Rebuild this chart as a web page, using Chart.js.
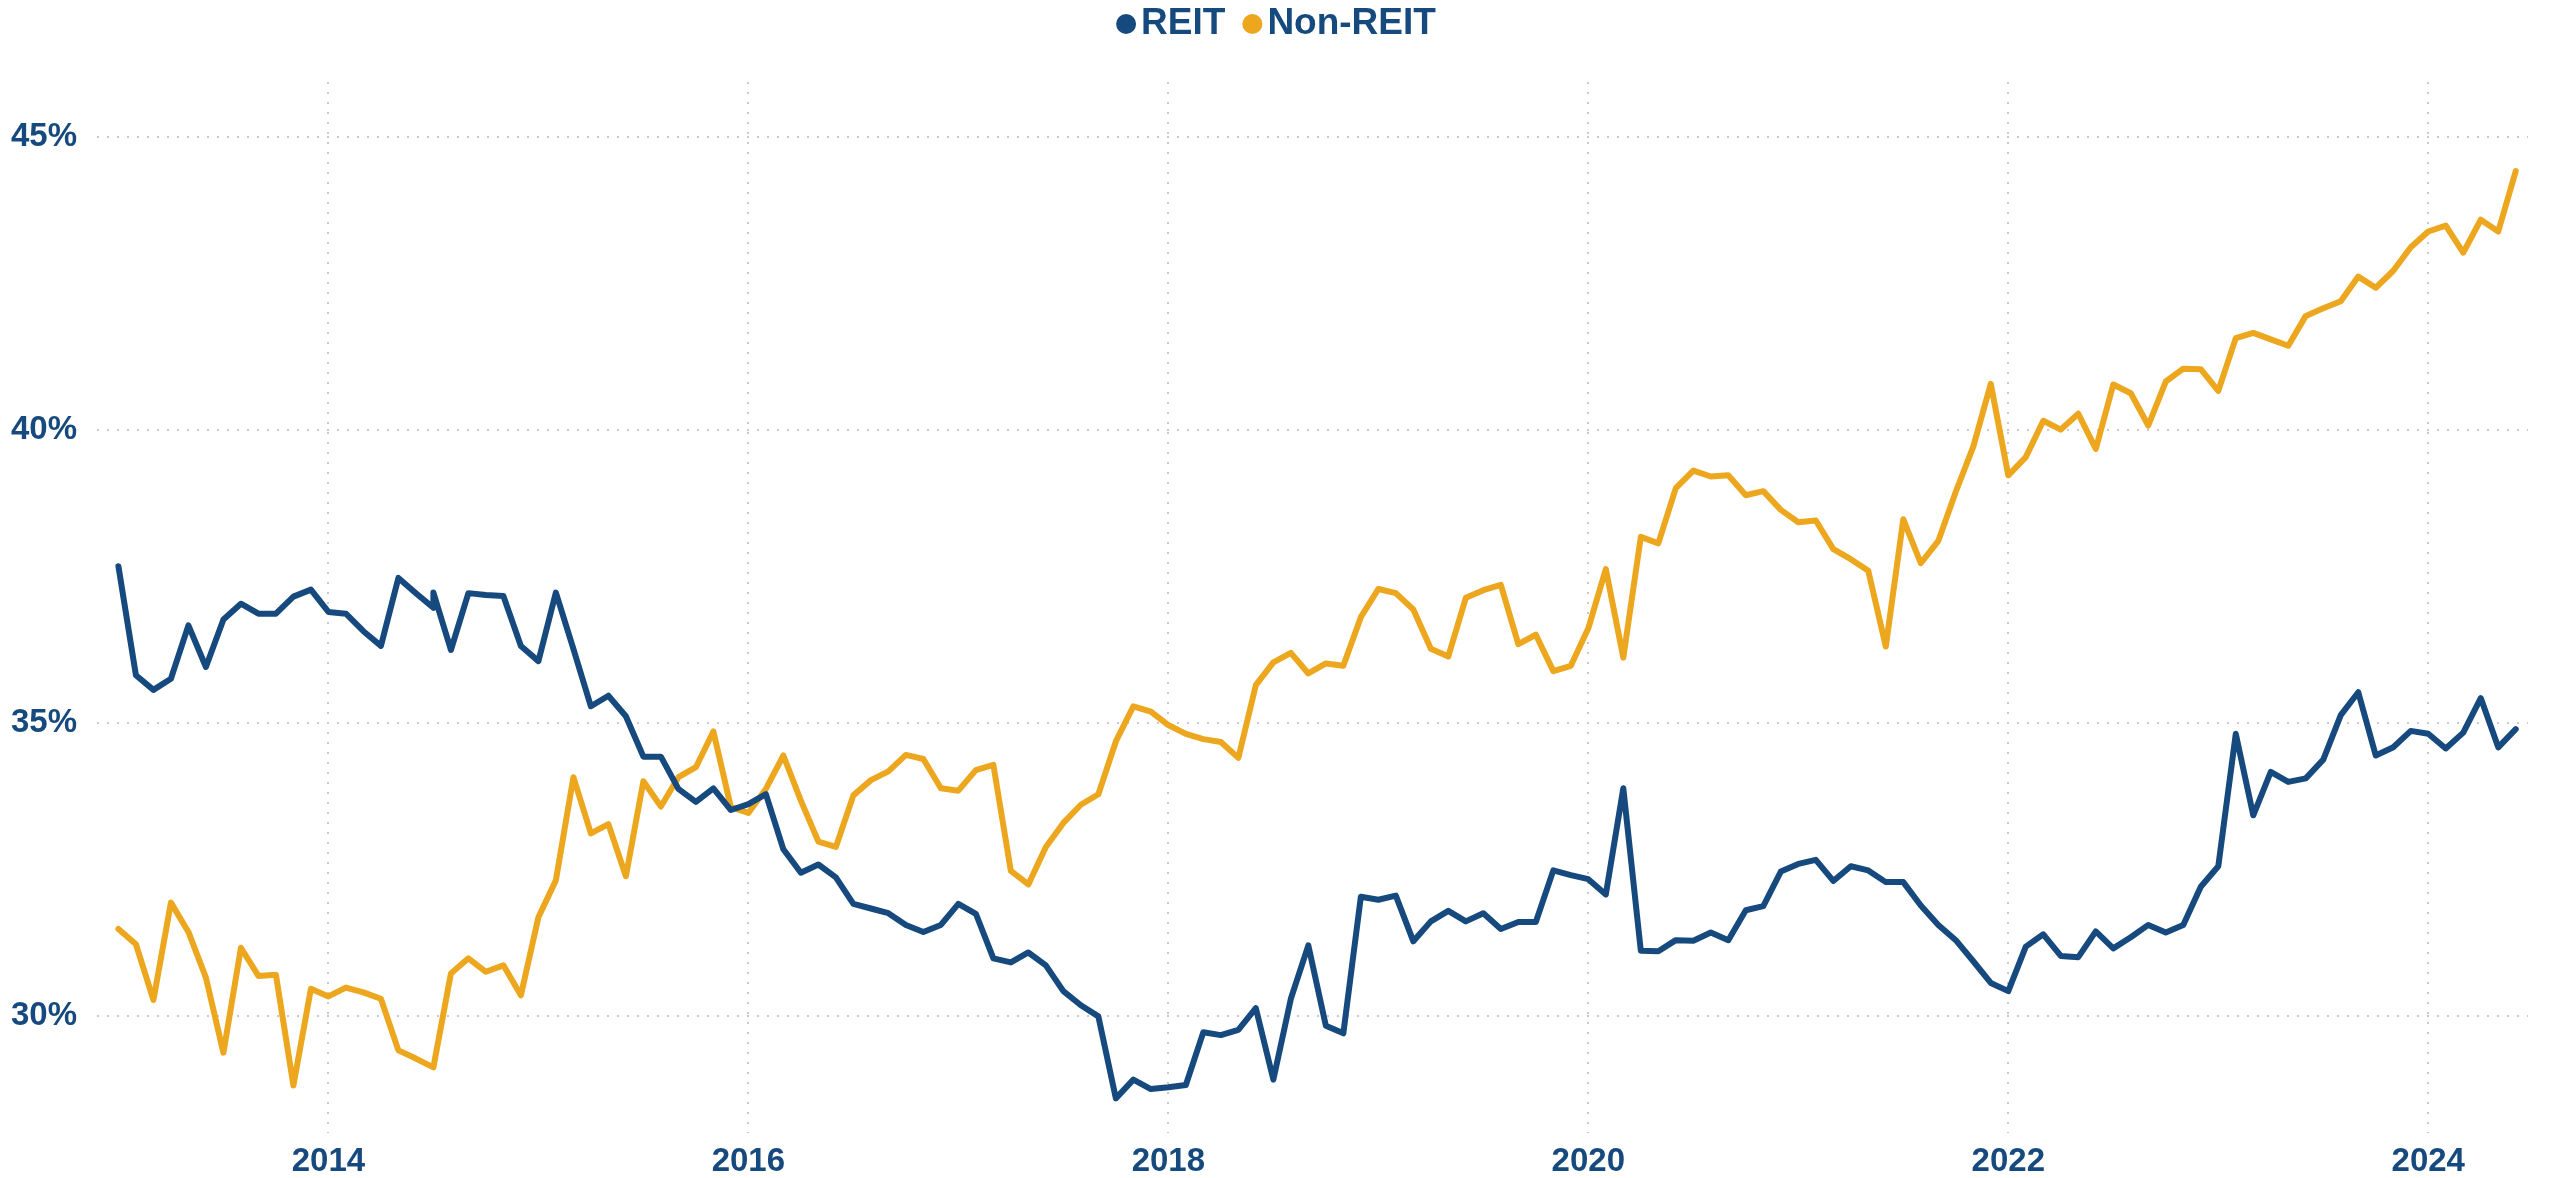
<!DOCTYPE html>
<html>
<head>
<meta charset="utf-8">
<script src="https://cdn.jsdelivr.net/npm/chart.js@4.4.1/dist/chart.umd.min.js"></script>
<style>
  html, body { margin: 0; padding: 0; background: #fff; }
  canvas { display: block; }
</style>
</head>
<body>
<canvas id="board" width="2552" height="1178"></canvas>
<script>
// month of each observation (2014-07 shows up twice in the source)
const months = [
  "2013-01","2013-02","2013-03","2013-04","2013-05","2013-06","2013-07","2013-08","2013-09","2013-10","2013-11","2013-12",
  "2014-01","2014-02","2014-03","2014-04","2014-05","2014-06","2014-07","2014-07","2014-08","2014-09","2014-10","2014-11","2014-12",
  "2015-01","2015-02","2015-03","2015-04","2015-05","2015-06","2015-07","2015-08","2015-09","2015-10","2015-11","2015-12",
  "2016-01","2016-02","2016-03","2016-04","2016-05","2016-06","2016-07","2016-08","2016-09","2016-10","2016-11","2016-12",
  "2017-01","2017-02","2017-03","2017-04","2017-05","2017-06","2017-07","2017-08","2017-09","2017-10","2017-11","2017-12",
  "2018-01","2018-02","2018-03","2018-04","2018-05","2018-06","2018-07","2018-08","2018-09","2018-10","2018-11","2018-12",
  "2019-01","2019-02","2019-03","2019-04","2019-05","2019-06","2019-07","2019-08","2019-09","2019-10","2019-11","2019-12",
  "2020-01","2020-02","2020-03","2020-04","2020-05","2020-06","2020-07","2020-08","2020-09","2020-10","2020-11","2020-12",
  "2021-01","2021-02","2021-03","2021-04","2021-05","2021-06","2021-07","2021-08","2021-09","2021-10","2021-11","2021-12",
  "2022-01","2022-02","2022-03","2022-04","2022-05","2022-06","2022-07","2022-08","2022-09","2022-10","2022-11","2022-12",
  "2023-01","2023-02","2023-03","2023-04","2023-05","2023-06","2023-07","2023-08","2023-09","2023-10","2023-11","2023-12",
  "2024-01","2024-02","2024-03","2024-04","2024-05","2024-06"
];

const reit = [
  37.67, 35.81, 35.56, 35.75, 36.66, 35.95, 36.76, 37.03, 36.86, 36.86, 37.15, 37.27,
  36.89, 36.86, 36.56, 36.31, 37.47, 37.21, 36.96, 37.22, 36.24, 37.21, 37.18, 37.16, 36.31,
  36.05, 37.22, 36.26, 35.28, 35.46, 35.11, 34.42, 34.42, 33.87, 33.65, 33.88, 33.51,
  33.61, 33.78, 32.84, 32.44, 32.58, 32.36, 31.91, 31.83, 31.75, 31.55, 31.43, 31.55,
  31.91, 31.74, 30.98, 30.91, 31.08, 30.86, 30.42, 30.18, 29.99, 28.59, 28.91, 28.75,
  28.78, 28.82, 29.72, 29.67, 29.76, 30.13, 28.91, 30.29, 31.20, 29.83, 29.70, 32.03,
  31.98, 32.05, 31.27, 31.61, 31.79, 31.61, 31.75, 31.48, 31.60, 31.60, 32.48, 32.40,
  32.33, 32.07, 33.88, 31.11, 31.10, 31.29, 31.28, 31.42, 31.29, 31.80, 31.87, 32.46,
  32.59, 32.66, 32.30, 32.55, 32.48, 32.28, 32.28, 31.88, 31.55, 31.29, 30.93, 30.56,
  30.42, 31.18, 31.39, 31.02, 31.00, 31.44, 31.15, 31.34, 31.55, 31.42, 31.55, 32.20,
  32.55, 34.81, 33.42, 34.16, 33.99, 34.05, 34.37, 35.13, 35.52, 34.44, 34.58, 34.86,
  34.81, 34.56, 34.83, 35.42, 34.58, 34.89
];

const nonReit = [
  31.48, 31.22, 30.27, 31.93, 31.43, 30.65, 29.37, 31.16, 30.68, 30.70, 28.81, 30.46,
  30.33, 30.48, 30.40, 30.29, 29.41, 29.27, 29.12, 29.12, 30.72, 30.98, 30.75, 30.86, 30.35,
  31.68, 32.31, 34.07, 33.11, 33.27, 32.38, 34.00, 33.57, 34.07, 34.24, 34.85, 33.56,
  33.46, 33.87, 34.44, 33.67, 32.97, 32.88, 33.76, 34.02, 34.17, 34.45, 34.38, 33.88,
  33.84, 34.19, 34.28, 32.47, 32.24, 32.88, 33.29, 33.60, 33.78, 34.68, 35.28, 35.19,
  34.96, 34.81, 34.72, 34.67, 34.40, 35.64, 36.03, 36.19, 35.84, 36.01, 35.97, 36.80,
  37.28, 37.21, 36.93, 36.26, 36.13, 37.13, 37.26, 37.35, 36.34, 36.50, 35.88, 35.97,
  36.61, 37.62, 36.11, 38.17, 38.06, 39.00, 39.30, 39.20, 39.22, 38.88, 38.95, 38.63,
  38.42, 38.45, 37.96, 37.79, 37.59, 36.30, 38.47, 37.72, 38.10, 38.94, 39.71, 40.78,
  39.22, 39.53, 40.15, 40.00, 40.27, 39.67, 40.77, 40.62, 40.07, 40.82, 41.04, 41.03,
  40.66, 41.56, 41.65, 41.54, 41.43, 41.94, 42.07, 42.19, 42.61, 42.42, 42.71, 43.11,
  43.38, 43.48, 43.02, 43.58, 43.38, 44.41
];

const yearTicks = [2014, 2016, 2018, 2020, 2022, 2024];
const percentTicks = [30, 35, 40, 45];

const BLUE = "#164a7e";
const ORANGE = "#eca71f";
const FONT = "'Liberation Sans', Arial, sans-serif";

function toYear(m) {
    const parts = m.split("-");
    return Number(parts[0]) + (Number(parts[1]) - 1) / 12;
}

function toPoints(values) {
    return values.map((v, i) => ({ x: toYear(months[i]), y: v }));
}

// small legend drawn on top, dots + bold labels, centred
const topLegend = {
    id: "topLegend",
    afterDraw(chart) {
        const ctx = chart.ctx;
        const sets = chart.data.datasets;
        const r = 10, gapText = 5, gapItem = 17;
        ctx.save();
        ctx.font = "bold 37px " + FONT;
        ctx.textBaseline = "alphabetic";
        let total = 0;
        sets.forEach((ds, i) => {
            total += 2 * r + gapText + ctx.measureText(ds.label).width;
            if (i < sets.length - 1) total += gapItem;
        });
        let x = (chart.width - total) / 2;
        sets.forEach((ds) => {
            ctx.fillStyle = ds.borderColor;
            ctx.beginPath();
            ctx.arc(x + r, 24, r, 0, Math.PI * 2);
            ctx.fill();
            x += 2 * r + gapText;
            ctx.fillStyle = BLUE;
            ctx.fillText(ds.label, x, 34);
            x += ctx.measureText(ds.label).width + gapItem;
        });
        ctx.restore();
    }
};

function makeLineChart() {
    const data = {
        datasets: [{
            label: "REIT",
            data: toPoints(reit),
            borderColor: BLUE,
            backgroundColor: BLUE,
            borderWidth: 6,
            pointRadius: 0,
            tension: 0,
            borderJoinStyle: "round",
            borderCapStyle: "round"
        }, {
            label: "Non-REIT",
            data: toPoints(nonReit),
            borderColor: ORANGE,
            backgroundColor: ORANGE,
            borderWidth: 6,
            pointRadius: 0,
            tension: 0,
            borderJoinStyle: "round",
            borderCapStyle: "round"
        }]
    };

    const gridStyle = { color: "#c9c9c9", lineWidth: 2, drawTicks: false };
    const borderStyle = { display: false, dash: [2, 8] };

    const config = {
        type: "line",
        data: data,
        plugins: [topLegend],
        options: {
            responsive: false,
            devicePixelRatio: 1,
            animation: false,
            layout: { padding: { top: 82, right: 24, left: 0, bottom: 0 } },
            plugins: {
                legend: { display: false },
                tooltip: { enabled: false }
            },
            scales: {
                x: {
                    type: "linear",
                    min: 2012.898,
                    max: 2024.475,
                    grid: gridStyle,
                    border: borderStyle,
                    afterBuildTicks: (scale) => { scale.ticks = yearTicks.map(v => ({ value: v })); },
                    afterFit: (scale) => { scale.height = 45; },
                    ticks: {
                        padding: 9,
                        maxRotation: 0,
                        color: BLUE,
                        font: { family: FONT, size: 33, weight: "bold" },
                        callback: (v) => String(v)
                    }
                },
                y: {
                    type: "linear",
                    min: 28,
                    max: 45.93,
                    grid: gridStyle,
                    border: borderStyle,
                    afterBuildTicks: (scale) => { scale.ticks = percentTicks.map(v => ({ value: v })); },
                    afterFit: (scale) => { scale.width = 97; },
                    ticks: {
                        padding: 20,
                        color: BLUE,
                        font: { family: FONT, size: 33, weight: "bold" },
                        callback: (v) => v + "%"
                    }
                }
            }
        }
    };

    const ctx = document.getElementById("board").getContext("2d");
    return new Chart(ctx, config);
}

makeLineChart();
</script>
</body>
</html>
